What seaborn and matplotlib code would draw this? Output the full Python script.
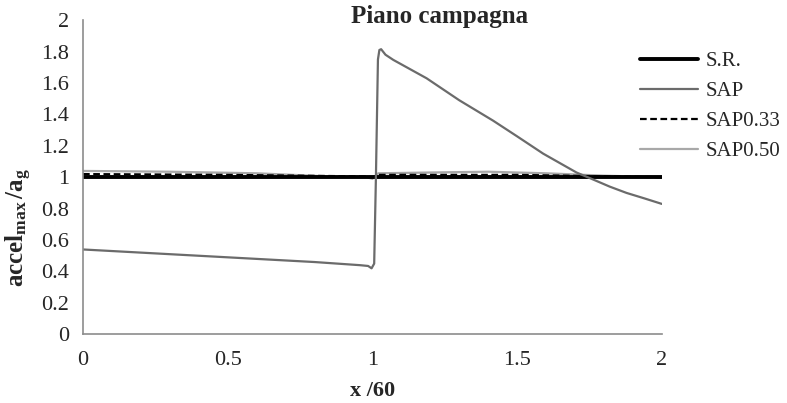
import matplotlib
matplotlib.use("Agg")
import matplotlib.pyplot as plt
import seaborn as sns
import pandas as pd

# ---- data ----
sr_x = [0.0, 2.0]
sr_y = [1.0, 1.0]

sap_x = [0.0, 0.2, 0.4, 0.6, 0.8, 0.957, 0.985, 0.997, 1.006, 1.012, 1.019, 1.024,
         1.030, 1.045, 1.072, 1.187, 1.30, 1.417, 1.50, 1.59, 1.705, 1.763, 1.82, 1.878, 1.94, 2.0]
sap_y = [0.54, 0.52, 0.50, 0.48, 0.46, 0.44, 0.435, 0.42, 0.45, 1.0, 1.75, 1.81,
         1.815, 1.78, 1.747, 1.63, 1.49, 1.36, 1.26, 1.15, 1.03, 0.985, 0.94, 0.90, 0.865, 0.83]

sap033_x = [0.0, 0.5, 0.98, 1.0, 1.02, 1.5, 2.0]
sap033_y = [1.02, 1.015, 1.005, 1.0, 1.015, 1.015, 1.0]

sap050_x = [0.0, 0.3, 0.6, 0.85, 0.98, 1.0, 1.02, 1.2, 1.4, 1.6, 1.8, 2.0]
sap050_y = [1.04, 1.035, 1.025, 1.005, 1.0, 0.99, 1.025, 1.03, 1.035, 1.025, 1.01, 1.0]

series_names = ["S.R.", "SAP", "SAP0.33", "SAP0.50"]
x_ticks = [0, 0.5, 1, 1.5, 2]
x_tick_labels = ["0", "0.5", "1", "1.5", "2"]
y_ticks = [0, 0.2, 0.4, 0.6, 0.8, 1, 1.2, 1.4, 1.6, 1.8, 2]
y_tick_labels = ["0", "0.2", "0.4", "0.6", "0.8", "1", "1.2", "1.4", "1.6", "1.8", "2"]

sns.set_style("white")
plt.rcParams["font.family"] = ["Liberation Serif", "DejaVu Serif"]
plt.rcParams["mathtext.fontset"] = "custom"
plt.rcParams["mathtext.rm"] = "Liberation Serif"
plt.rcParams["mathtext.bf"] = "Liberation Serif:bold"
plt.rcParams["mathtext.it"] = "Liberation Serif:italic"

fig = plt.figure(figsize=(7.87, 4.03), dpi=100)
ax = fig.add_axes([0.1055, 0.1705, 0.7355, 0.7795])

styles = [
    (sr_x, sr_y, dict(color="black", linewidth=2.8, linestyle="-")),
    (sap_x, sap_y, dict(color="#6b6b6b", linewidth=1.6, linestyle="-")),
    (sap033_x, sap033_y, dict(color="black", linewidth=1.6, linestyle=(0, (3, 1.6)))),
    (sap050_x, sap050_y, dict(color="#a8a8a8", linewidth=1.6, linestyle="-")),
]
order = [3, 0, 2, 1]  # drawing order
for i in order:
    xs, ys, st = styles[i]
    df = pd.DataFrame({"x": xs, "y": ys})
    sns.lineplot(data=df, x="x", y="y", ax=ax, sort=False, estimator=None,
                 label=series_names[i], **st)

ax.set_xlim(0, 2)
ax.set_ylim(0, 2)
ax.set_xticks(x_ticks)
ax.set_xticklabels(x_tick_labels)
ax.set_yticks(y_ticks)
ax.set_yticklabels(y_tick_labels)
ax.tick_params(axis="both", which="major", labelsize=16, length=5, width=1,
               color="#8c8c8c", direction="out", pad=5)
ax.tick_params(axis="x", pad=7)
for s in ["top", "right"]:
    ax.spines[s].set_visible(False)
for s in ["left", "bottom"]:
    ax.spines[s].set_color("#8c8c8c")
    ax.spines[s].set_linewidth(1.2)
ax.set_xlabel("")
ax.set_ylabel("")

h, l = ax.get_legend_handles_labels()
hd = dict(zip(l, h))
if ax.get_legend():
    ax.get_legend().remove()
fig.legend([hd[n] for n in series_names], series_names,
           loc="upper left", bbox_to_anchor=(0.8027, 0.893),
           frameon=False, fontsize=15, handlelength=2.8,
           handletextpad=0.34, labelspacing=0.5, borderaxespad=0)

fig.text(440 / 787, 1 - 17 / 403, "Piano campagna", ha="center", va="center",
         fontsize=18, fontweight="bold")
fig.text(373 / 787, 1 - 391 / 403, "x /60", ha="center", va="center",
         fontsize=16, fontweight="bold")
fig.text(19 / 787, 1 - 228 / 403,
         r"$\mathbf{accel}_{\mathbf{max}}\,\mathbf{/a}_{\mathbf{g}}$",
         ha="center", va="center", rotation=90, fontsize=18)

fig.savefig("out.png", dpi=100)
